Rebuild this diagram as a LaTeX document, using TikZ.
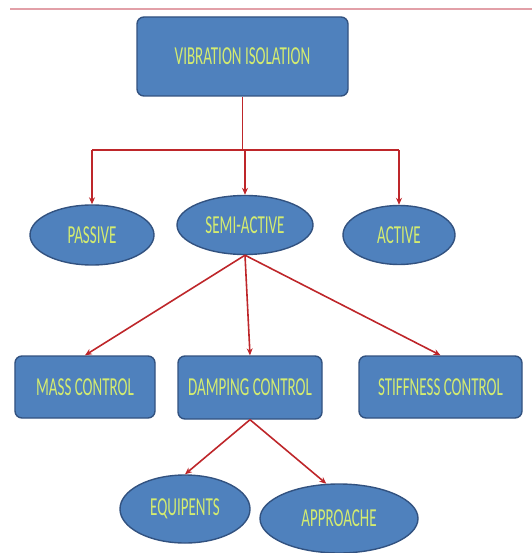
\documentclass[tikz,border=0pt]{standalone}
\usepackage{fontspec}
\newfontfamily\boxfont[FakeStretch=0.58]{Carlito}
\usetikzlibrary{shapes.geometric,arrows.meta}
\definecolor{boxfill}{RGB}{79,129,189}
\definecolor{boxedge}{RGB}{50,82,128}
\definecolor{boxtext}{RGB}{212,236,112}
\definecolor{linkred}{RGB}{190,38,42}
\definecolor{rulepink}{RGB}{226,160,168}

\begin{document}
\begin{tikzpicture}[x=1bp, y=-1bp, >={Stealth[length=7pt,width=6pt]},
    box/.style={draw=boxedge, fill=boxfill, line width=1.4pt, rounded corners=7pt,
      inner sep=0pt, text=boxtext, font=\boxfont\fontsize{26}{26}\selectfont},
    oval/.style={box, ellipse, rounded corners=0pt},
    link/.style={draw=linkred, line width=1.6pt}]
    \useasboundingbox (0,0) rectangle (532,553);
    % Top rule
    \draw[rulepink, line width=1.3pt] (10,9) -- (532,9);
    % Boxes (centre, width x height)
    \node[box, minimum width=211bp, minimum height=79bp] (top) at (242.5,56.5) {VIBRATION ISOLATION};
    \node[oval, minimum width=124bp, minimum height=60bp] (passive) at (92,235) {PASSIVE};
    \node[oval, minimum width=136bp, minimum height=59bp] (semi) at (245,225) {SEMI-ACTIVE};
    \node[oval, minimum width=112bp, minimum height=59bp] (active) at (399,235) {ACTIVE};
    \node[box, minimum width=140bp, minimum height=62bp] (mass) at (85,387) {MASS CONTROL};
    \node[box, minimum width=144bp, minimum height=63bp] (damping) at (250,387.5) {DAMPING CONTROL};
    \node[box, minimum width=163bp, minimum height=62bp] (stiff) at (440.5,387) {STIFFNESS CONTROL};
    \node[oval, minimum width=130bp, minimum height=68bp] (equip) at (185,509) {EQUIPENTS};
    \node[oval, minimum width=158bp, minimum height=69bp] (approach) at (339,518.5) {APPROACHE};
    % Connectors
    \coordinate (bar) at (243,150);
    \draw[link] (top.south) -- (top.south |- bar);
    \draw[link] (passive.north |- bar) -- (active.north |- bar);
    \draw[link, ->] (passive.north |- bar) -- (passive.north);
    \draw[link, ->] (semi.north |- bar) -- (semi.north);
    \draw[link, ->] (active.north |- bar) -- (active.north);
    \draw[link, ->] (semi.south) -- (mass.north);
    \draw[link, ->] (semi.south) -- (damping.north);
    \draw[link, ->] (semi.south) -- (stiff.north);
    \draw[link, ->] (damping.south) -- (equip.north);
    \draw[link, ->] (damping.south) -- (approach.110);
\end{tikzpicture}
\end{document}
